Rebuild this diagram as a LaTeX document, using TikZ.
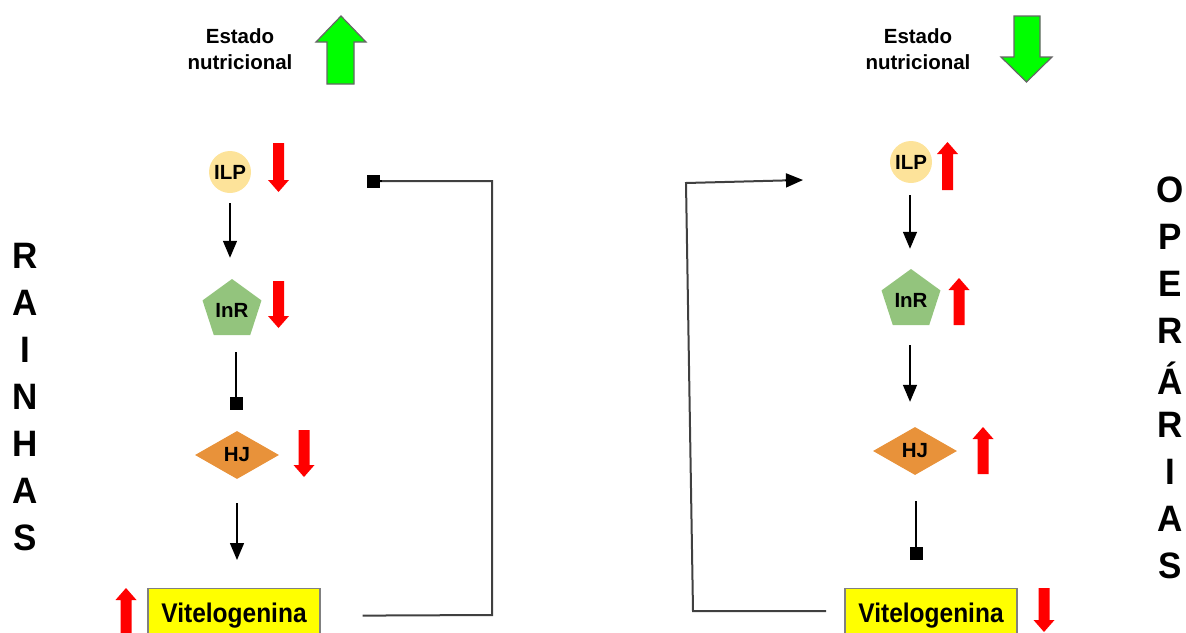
\documentclass[tikz,border=0pt]{standalone}
\usepackage{fontspec}
\setmainfont{Liberation Sans}
\usetikzlibrary{shapes.geometric,arrows.meta}
\definecolor{ilpfill}{HTML}{FDE39A}
\definecolor{inrfill}{HTML}{93C47D}
\definecolor{hjfill}{HTML}{E8923A}
\definecolor{vitfill}{HTML}{FFFF00}
\definecolor{greenarr}{HTML}{00FF00}
\newcommand{\arrdn}[3]{\fill[red] (#1-5.5,#2) -- (#1+5.5,#2) -- (#1+5.5,#3-12) -- (#1+10.5,#3-12) -- (#1,#3) -- (#1-10.5,#3-12) -- (#1-5.5,#3-12) -- cycle;}
\newcommand{\arrup}[3]{\fill[red] (#1-5.5,#3) -- (#1+5.5,#3) -- (#1+5.5,#2+12) -- (#1+10.5,#2+12) -- (#1,#2) -- (#1-10.5,#2+12) -- (#1-5.5,#2+12) -- cycle;}
\tikzset{
  lbl/.style={font=\fontsize{20.5}{26}\selectfont\bfseries, align=center, inner sep=0pt},
  big/.style={font=\fontsize{35}{40}\selectfont\bfseries, inner sep=0pt},
  ilpnode/.style={circle, fill=ilpfill, minimum size=42pt, inner sep=0pt, font=\fontsize{20.5}{24}\selectfont\bfseries},
  inrnode/.style={regular polygon, regular polygon sides=5, fill=inrfill, minimum size=62pt, inner sep=0pt, font=\fontsize{20.5}{24}\selectfont\bfseries},
  hjnode/.style={diamond, fill=hjfill, minimum width=84pt, minimum height=48pt, inner sep=0pt, font=\fontsize{20.5}{24}\selectfont\bfseries},
  vitnode/.style={rectangle, fill=vitfill, draw=gray, line width=1.2pt, minimum width=172pt, minimum height=54pt, inner sep=0pt, anchor=north, font=\fontsize{24.5}{28}\selectfont\bfseries},
  act/.style={line width=1.5pt, -{Triangle[length=17pt,width=14pt]}},
  inh/.style={line width=1.5pt, -{Square[length=13pt,width=13pt]}},
  fb/.style={line width=2pt, draw=black!75},
  garrow/.style={fill=greenarr, draw=black!60, line width=1.2pt},
}
\begin{document}
\begin{tikzpicture}[x=1pt,y=-1pt]
\useasboundingbox (0,0) rectangle (1186,632);
% ---------- top labels ----------
\node[lbl] (estL) at (240,49) {Estado\\nutricional};
\node[lbl] (estR) at (918,49) {Estado\\nutricional};
\draw[garrow] (341,16) -- (366,42) -- (354,42) -- (354,84) -- (327,84) -- (327,42) -- (316,42) -- cycle;
\draw[garrow] (1014,16) -- (1040,16) -- (1040,57) -- (1052,57) -- (1026.5,82) -- (1001,57) -- (1014,57) -- cycle;
% ---------- side letters ----------
\foreach \c [count=\i] in {R,A,I,N,H,A,S}
  \node[big] (rl\i) at (25,256+47*\i-47) {\scalebox{1}[1.05]{\c}};
\foreach \c [count=\i] in {O,P,E,R,Á,R,I,A,S}
  \node[big] (op\i) at (1170,190+47*\i-47) {\scalebox{1}[1.05]{\c}};
% ---------- left chain ----------
\node[ilpnode] (ilpL) at (230,172) {ILP};
\node[inrnode] (inrL) at (232,310) {InR};
\node[hjnode] (hjL) at (237,455) {HJ};
\node[vitnode] (vitL) at (234,588) {\raisebox{3pt}{\scalebox{1}[1.1]{Vitelogenina}}};
\draw[act, shorten <=10pt, shorten >=21pt] (ilpL.south) -- (ilpL.south |- inrL.north);
\draw[inh, shorten <=17pt, shorten >=21pt] (inrL.south -| hjL.north) ++(-1,0) -- ([xshift=-1pt]hjL.north);
\draw[act, shorten <=24pt, shorten >=28pt] (hjL.south) -- (hjL.south |- vitL.north);
\arrdn{278.5}{143}{192}
\arrdn{278.5}{281}{328}
\arrdn{304}{430}{477}
\arrup{126}{588}{640}
% feedback left
\coordinate (cL1) at (492,615);
\coordinate (cL2) at (492,181);
\coordinate (eL) at (367,181);
\draw[fb] ([xshift=42pt]vitL.east) -- (cL1) -- (cL2) -- (372,181);
\draw[inh] (382,181) -- (eL);
% ---------- right chain ----------
\node[ilpnode] (ilpR) at (911,162) {ILP};
\node[inrnode] (inrR) at (911,300) {InR};
\node[hjnode] (hjR) at (915,451) {HJ};
\node[vitnode] (vitR) at (931,588) {\raisebox{3pt}{\scalebox{1}[1.1]{Vitelogenina}}};
\draw[act, shorten <=12pt, shorten >=20pt] ([xshift=-1pt]ilpR.south) -- ([xshift=-1pt]ilpR.south |- inrR.north);
\draw[act, shorten <=20pt, shorten >=25pt] ([xshift=-1pt]inrR.south) -- ([xshift=-1pt]inrR.south |- hjR.north);
\draw[inh, shorten <=26pt, shorten >=28pt] ([xshift=1pt]hjR.south) -- ([xshift=1pt]hjR.south |- vitR.north);
\arrup{947.5}{142}{190}
\arrup{959}{278}{325}
\arrup{983}{427}{474}
\arrdn{1044}{588}{632}
% feedback right
\coordinate (sR) at (826,611);
\coordinate (cR1) at (693,611);
\coordinate (cR2) at (686,183);
\coordinate (eR) at (803,180);
\draw[fb] (sR) -- (cR1) -- (cR2) -- (790,180.3);
\draw[line width=1.5pt, -{Triangle[length=17pt,width=14pt]}] (785,180.4) -- (eR);
\end{tikzpicture}
\end{document}
